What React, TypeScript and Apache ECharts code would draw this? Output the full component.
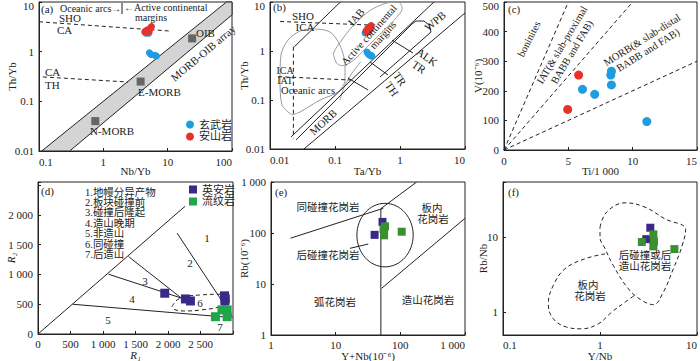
import { useEffect, useRef } from "react";
import * as echarts from "echarts";

const FONT = "'Liberation Serif','Times New Roman','Noto Sans CJK SC',serif";
const INK = "#222";
const BLUE = "#1d9de0";
const RED = "#e5322b";
const PURPLE = "#3b2888";
const GREEN_D = "#1fa64a";
const GREEN = "#3a8f2f";
const GRAY = "#666";
const FIELD = "#9a9a9a";

// ---------- (a) Th/Yb vs Nb/Yb ----------
const aBasalt = [[5.2, 0.95], [5.5, 0.88], [6.3, 0.85], [6.7, 0.82], [4.6, 2.35], [5.1, 2.35]];
const aAndesite = [[4.4, 2.5], [4.7, 2.7], [5.0, 2.8], [5.4, 3.0], [5.6, 3.2], [4.9, 2.5], [5.2, 2.6]];
const aRefPoints = [[0.75, 0.04], [3.8, 0.25], [24, 1.85]];
const aArrayBand = [[0.11, 0.01], [82, 10], [100, 10], [100, 5.5], [0.3, 0.01]];
const aShoCa = [[0.1, 4.0], [11, 2.6]];
const aCaTh = [[0.115, 0.31], [2.4, 0.245]];

// ---------- (b) Th/Yb vs Ta/Yb ----------
const bBasalt = [[0.31, 0.95], [0.33, 0.85], [0.35, 0.8], [0.37, 0.78], [0.32, 0.9], [0.36, 0.82], [0.29, 2.33]];
const bAndesite = [[0.3, 2.6], [0.32, 2.9], [0.34, 3.1], [0.36, 3.3], [0.33, 2.5], [0.35, 2.8], [0.31, 2.4]];
const bShoIca = [[0.0143, 4.0], [0.33, 3.4]];
const bIcaIat = [[0.0134, 0.3], [0.17, 0.256]];
const bVertical = [[0.0229, 1.22], [0.0229, 0.0165]];
const bArcUpper = [[0.0237, 1.22], [0.121, 10]];
const bMantleUpper = [[0.021, 0.0176], [3.33, 10]];
const bMantleLower = [[0.0251, 0.0153], [1.53, 3.56], [1.76, 4.09], [2.34, 4.09], [2.79, 3.4], [3.0, 2.44], [0.492, 0.294]];
const bOuter = [[0.0333, 0.01], [10, 5.97]];
const bDivAlk = [[0.753, 1.67], [1.585, 0.91]];
const bDivTr = [[0.345, 0.597], [0.653, 0.324]];
const bDivLow = [[0.158, 0.281], [0.322, 0.16]];
const bOceanic = [[0.0218, 0.0494], [0.0153, 0.0791], [0.01426, 0.256], [0.01476, 0.828], [0.0189, 1.67], [0.029, 2.56], [0.0492, 2.81], [0.0838, 2.44], [0.119, 1.32], [0.1426, 0.518], [0.1426, 0.256], [0.111, 0.146], [0.0588, 0.1], [0.029, 0.0569], [0.0218, 0.0494]];
const bIab = [[0.106, 0.561], [0.095, 0.85], [0.12, 1.5], [0.19, 3.3], [0.34, 6.6], [0.62, 9.5], [0.95, 9.9], [1.08, 7.4], [0.8, 4.2], [0.49, 2.2], [0.3, 1.15], [0.185, 0.62], [0.127, 0.5], [0.106, 0.561]];
const bAcm = [[0.119, 0.1], [0.1426, 0.202], [0.183, 0.356], [0.25, 0.6]];

// ---------- (c) V vs Ti/1000 ----------
const cBasalt = [[6.1, 205], [7.05, 188], [8.35, 266], [8.3, 253], [8.35, 220], [11.1, 96]];
const cAndesite = [[5.8, 253], [4.95, 137]];
const cTiV10 = [[0, 0], [5, 500]];
const cTiV20 = [[0, 0], [10, 500]];
const cTiV50 = [[0, 0], [15, 300]];

// ---------- (d) R1-R2 ----------
const dDacite = [[1950, 684], [2268, 588], [2345, 554], [2870, 640], [2880, 590], [2875, 555]];
const dRhyolite = [[2730, 290], [2830, 405], [2910, 405], [2910, 290]];
const dLine0 = [[0, 0], [2264, 2144]];
const dLine12 = [[2140, 1692], [2989, 291]];
const dLine23 = [[1393, 1299], [2242, 571]];
const dLine34 = [[1085, 1003], [2294, 571]];
const dLine45 = [[535, 499], [2989, 274]];
const dField6 = [[2063, 459], [2140, 571], [2294, 633], [2500, 655], [2757, 667], [2911, 643], [2937, 543], [2808, 459], [2500, 403], [2243, 386], [2088, 415], [2063, 459]];
const dFieldNames = ["1.地幔分异产物", "2.板块碰撞前", "3.碰撞后隆起", "4.造山晚期", "5.非造山", "6.同碰撞", "7.后造山"];

// ---------- (e) Rb vs Y+Nb ----------
const eDacite = [[53, 165], [40, 92]];
const eRhyolite = [[58, 135], [55, 120], [56, 100], [56, 90], [105, 106]];
const eSynVag = [[2, 79], [54.5, 305]];
const eSynWpg = [[50, 300], [179, 1000]];
const eVertical = [[50, 1], [50, 300]];
const eWpgOrg = [[51.4, 8.24], [1000, 194]];
const ePointer = [[16.6, 50], [31.9, 60.8]];
const eCircleCenter = [58, 91];
const eCircleEdge = [158, 382];

// ---------- (f) Rb/Nb vs Y/Nb ----------
const fDacite = [[3.3, 13.5], [3.0, 9.5]];
const fRhyolite = [[3.55, 11.0], [2.7, 8.7], [3.6, 8.8], [3.55, 7.6], [5.85, 7.0]];
const fPostCol = [[1.0, 13.7], [1.17, 21.8], [1.81, 29], [2.91, 25.4], [4.68, 17.7], [7.64, 12.8], [6.95, 7.43], [5.7, 3.82], [4.5, 1.87], [3.55, 1.27], [2.69, 1.45], [1.96, 2.07], [1.37, 4.23], [1.13, 7.06], [1.0, 10.1], [1.0, 13.7]];
const fWithinPlate = [[1.13, 6.05], [0.7, 5.2], [0.435, 3.82], [0.33, 2.29], [0.293, 1.31], [0.33, 0.824], [0.453, 0.637], [0.647, 0.605], [0.962, 0.706], [1.32, 1.01], [1.81, 1.37], [2.39, 1.77]];

const isPow10 = (v: number) => Math.abs(Math.log10(v) - Math.round(Math.log10(v))) < 1e-6;
const fmt = (v: number) => {
  const s = String(+v.toPrecision(6));
  return Math.abs(v) >= 1000 ? s.replace(/\B(?=(\d{3})+(?!\d))/g, " ") : s;
};

function buildOption() {
  const grids = [
    { left: 39, top: 2, width: 193, height: 149 },
    { left: 270, top: 2, width: 195, height: 147 },
    { left: 504, top: 2, width: 193, height: 148 },
    { left: 38, top: 182, width: 195, height: 152 },
    { left: 271, top: 182, width: 194, height: 153 },
    { left: 503, top: 182, width: 194, height: 153 },
  ].map((g) => ({ ...g, show: true, borderColor: INK, borderWidth: 1, backgroundColor: "transparent", containLabel: false, outerBoundsMode: "none" }));

  const labelFont = { fontFamily: FONT, fontSize: 11, color: INK };

  const axisBase = (i: number, isX: boolean, type: string, min: number, max: number, name: string, extra: any = {}) => ({
    gridIndex: i,
    type,
    min,
    max,
    name,
    nameLocation: "middle",
    nameGap: extra.gap,
    nameMoveOverlap: false,
    nameTextStyle: { ...labelFont, fontStyle: extra.italic ? "italic" : "normal" },
    axisLine: { show: true, lineStyle: { color: INK, width: 1 } },
    axisTick: { show: true, inside: true, length: 3, lineStyle: { color: INK } },
    splitLine: { show: false },
    axisLabel: {
      ...labelFont,
      margin: isX && i >= 3 ? 4 : 5,
      ...(extra.alignMin ? { alignMinLabel: extra.alignMin } : {}),
      ...(isX ? { alignMaxLabel: "right" } : {}),
      rich: { top: { ...labelFont, padding: [8, 0, 0, 0] } },
      formatter: (v: number) => {
        if (type === "log" && !isPow10(v)) return "";
        if (extra.hideAbove !== undefined && v > extra.hideAbove) return "";
        if (extra.shiftTop && Math.abs(v - max) < 1e-9) return `{top|${fmt(v)}}`;
        return fmt(v);
      },
    },
    ...(extra.interval ? { interval: extra.interval } : {}),
    ...(type === "log" ? { logBase: 10 } : {}),
  });

  const xAxis = [
    axisBase(0, true, "log", 0.1, 100, "Nb/Yb", { gap: 14, alignMin: "left" }),
    axisBase(1, true, "log", 0.01, 10, "Ta/Yb", { gap: 16, alignMin: "left" }),
    axisBase(2, true, "value", 0, 15, "Ti/1 000", { gap: 15, interval: 5 }),
    axisBase(3, true, "value", 0, 3000, "R\u2081", { gap: 15, interval: 500, hideAbove: 2500, italic: true }),
    axisBase(4, true, "log", 1, 1000, "Y+Nb(10\u207B\u2076)", { gap: 15 }),
    axisBase(5, true, "log", 0.1, 10, "Y/Nb", { gap: 15, alignMin: "left" }),
  ];
  const yAxis = [
    axisBase(0, false, "log", 0.01, 10, "Th/Yb", { gap: 22, shiftTop: true }),
    axisBase(1, false, "log", 0.01, 10, "Th/Yb", { gap: 21, shiftTop: true }),
    axisBase(2, false, "value", 0, 500, "V(10\u207B\u2076)", { gap: 21, interval: 100, shiftTop: true }),
    axisBase(3, false, "value", 0, 2550, "R\u2082", { gap: 22, interval: 500, hideAbove: 2000, italic: true }),
    axisBase(4, false, "log", 1, 1000, "Rb(10\u207B\u2076)", { gap: 22 }),
    axisBase(5, false, "log", 0.5, 55, "Rb/Nb", { gap: 15 }),
  ];

  const line = (i: number, data: number[][], o: any = {}) => ({
    type: "line",
    xAxisIndex: i,
    yAxisIndex: i,
    data,
    symbol: "none",
    silent: true,
    smooth: o.smooth || false,
    z: 2,
    lineStyle: { color: o.color || INK, width: o.width || 1, type: o.dash ? [4, 3] : "solid" },
  });
  const scatter = (i: number, name: string, data: number[][], color: string, symbol: string, size: number) => ({
    type: "scatter",
    name,
    xAxisIndex: i,
    yAxisIndex: i,
    data,
    symbol,
    symbolSize: size,
    itemStyle: { color, opacity: 1 },
    z: 5,
    silent: true,
  });

  const series: any[] = [
    // (a)
    {
      type: "custom",
      xAxisIndex: 0,
      yAxisIndex: 0,
      data: [aArrayBand[0]],
      silent: true,
      z: 1,
      renderItem: (_p: any, api: any) => ({
        type: "polygon",
        shape: { points: aArrayBand.map((pt) => api.coord(pt)) },
        style: { fill: "#d4d4d4", stroke: INK, lineWidth: 1 },
      }),
    },
    line(0, aShoCa, { dash: true }),
    line(0, aCaTh, { dash: true }),
    scatter(0, "ref", aRefPoints, GRAY, "rect", 8),
    scatter(0, "玄武岩", aBasalt, BLUE, "circle", 7),
    scatter(0, "安山岩", aAndesite, RED, "circle", 7),
    // (b)
    line(1, bOceanic, { color: FIELD, smooth: 0.3 }),
    line(1, bIab, { color: FIELD, smooth: 0.3 }),
    line(1, bAcm, { color: FIELD, smooth: 0.3 }),
    line(1, bShoIca, { dash: true }),
    line(1, bIcaIat, { dash: true }),
    line(1, bVertical, { dash: true }),
    line(1, bArcUpper),
    line(1, bMantleUpper),
    line(1, bMantleLower),
    line(1, bOuter),
    line(1, bDivAlk),
    line(1, bDivTr),
    line(1, bDivLow),
    scatter(1, "玄武岩", bBasalt, BLUE, "circle", 7),
    scatter(1, "安山岩", bAndesite, RED, "circle", 7),
    // (c)
    line(2, cTiV10, { dash: true }),
    line(2, cTiV20, { dash: true }),
    line(2, cTiV50, { dash: true }),
    scatter(2, "玄武岩", cBasalt, BLUE, "circle", 9),
    scatter(2, "安山岩", cAndesite, RED, "circle", 9),
    // (d)
    line(3, dLine0),
    line(3, dLine12),
    line(3, dLine23),
    line(3, dLine34),
    line(3, dLine45),
    line(3, dField6, { dash: true, smooth: 0.4 }),
    scatter(3, "英安岩", dDacite, PURPLE, "rect", 9),
    scatter(3, "流纹岩", dRhyolite, GREEN_D, "rect", 9),
    // (e)
    line(4, eSynVag),
    line(4, eSynWpg),
    line(4, eVertical),
    line(4, eWpgOrg),
    line(4, ePointer),
    {
      type: "custom",
      xAxisIndex: 4,
      yAxisIndex: 4,
      data: [eCircleCenter],
      silent: true,
      z: 2,
      renderItem: (_p: any, api: any) => {
        const c = api.coord(eCircleCenter);
        const e = api.coord(eCircleEdge);
        return {
          type: "ellipse",
          shape: { cx: c[0], cy: c[1], rx: Math.abs(e[0] - c[0]), ry: Math.abs(c[1] - e[1]) },
          style: { fill: "none", stroke: INK, lineWidth: 1 },
        };
      },
    },
    scatter(4, "英安岩", eDacite, PURPLE, "rect", 8),
    scatter(4, "流纹岩", eRhyolite, GREEN, "rect", 8),
    // (f)
    line(5, fPostCol, { dash: true, smooth: 0.4 }),
    line(5, fWithinPlate, { dash: true, smooth: 0.4 }),
    scatter(5, "英安岩", fDacite, PURPLE, "rect", 8),
    scatter(5, "流纹岩", fRhyolite, GREEN, "rect", 8),
  ];

  const tx = (x: number, y: number, text: string, o: any = {}) => ({
    type: "text",
    x,
    y,
    rotation: ((o.r || 0) * Math.PI) / 180,
    silent: true,
    z: 10,
    style: {
      text,
      fontSize: o.s || 11,
      fontFamily: FONT,
      fill: INK,
      align: o.a || "left",
      verticalAlign: "middle",
    },
  });

  const graphic: any[] = [
    // (a)
    tx(41, 9, "(a)"),
    tx(60, 8, "Oceanic arcs\u2192", { s: 10 }),
    { type: "line", silent: true, shape: { x1: 122, y1: 3, x2: 122, y2: 14 }, style: { stroke: INK, lineWidth: 1 } },
    tx(124, 7, "\u2190Active continental", { s: 10 }),
    tx(135, 17, "margins", { s: 10 }),
    tx(59, 18, "SHO"),
    tx(57, 30, "CA"),
    tx(45, 72, "CA"),
    tx(45, 85, "TH"),
    tx(196, 33, "OIB"),
    tx(138, 92, "E-MORB"),
    tx(90, 131, "N-MORB"),
    tx(203, 53, "MORB-OIB array", { a: "center", r: 40 }),
    // (b)
    tx(273, 7, "(b)"),
    tx(303, 16, "SHO", { a: "center" }),
    tx(305, 27, "ICA", { a: "center" }),
    tx(285, 70.5, "ICA", { a: "center", s: 10 }),
    tx(285, 80.5, "IAT", { a: "center", s: 10 }),
    tx(308, 90, "Oceanic arcs", { a: "center", s: 10.5 }),
    tx(356, 17, "IAB", { a: "center", r: 50 }),
    tx(369, 35, "Active continental", { a: "center", r: 48, s: 10.5 }),
    tx(383, 35, "margins", { a: "center", r: 48, s: 10.5 }),
    tx(323, 122, "MORB", { a: "center", r: 42 }),
    tx(435, 21, "WPB", { a: "center", r: 40 }),
    tx(427, 57, "ALK", { a: "center", r: -35 }),
    tx(419, 67, "TR", { a: "center", r: -35 }),
    tx(400, 79, "TR", { a: "center", r: -55 }),
    tx(392, 89, "TH", { a: "center", r: -55 }),
    // (c)
    tx(508, 9, "(c)"),
    tx(529, 39, "boninites", { a: "center", r: 63, s: 10.5 }),
    tx(562, 45, "IAT(& slab-proximal", { a: "center", r: 59, s: 10.5 }),
    tx(572, 52, "BABB and FAB)", { a: "center", r: 59, s: 10.5 }),
    tx(642, 40, "MORB(& slab-distal", { a: "center", r: 32, s: 10.5 }),
    tx(648, 50, "BABB and FAB)", { a: "center", r: 32, s: 10.5 }),
    // (d)
    tx(41, 191, "(d)"),
    ...dFieldNames.map((n, k) => tx(85, 192 + k * 10.4, n, { s: 10.5 })),
    tx(207, 238, "1", { a: "center" }),
    tx(190, 263, "2", { a: "center" }),
    tx(145, 281, "3", { a: "center" }),
    tx(132, 299, "4", { a: "center" }),
    tx(108, 320, "5", { a: "center" }),
    tx(200, 303, "6", { a: "center" }),
    tx(220, 327, "7", { a: "center" }),
    // (e)
    tx(275, 192, "(e)"),
    tx(328, 207, "同碰撞花岗岩", { a: "center", s: 10.5 }),
    tx(432, 208, "板内", { a: "center", s: 10.5 }),
    tx(433, 219, "花岗岩", { a: "center", s: 10.5 }),
    tx(328, 255, "后碰撞花岗岩", { a: "center", s: 10.5 }),
    tx(335, 302, "弧花岗岩", { a: "center", s: 10.5 }),
    tx(428, 300, "造山花岗岩", { a: "center", s: 10.5 }),
    // (f)
    tx(508, 192, "(f)"),
    tx(645, 255, "后碰撞或后", { a: "center", s: 10.5 }),
    tx(645, 266, "造山花岗岩", { a: "center", s: 10.5 }),
    tx(588, 285, "板内", { a: "center", s: 10.5 }),
    tx(590, 296, "花岗岩", { a: "center", s: 10.5 }),
  ];

  const legend = [
    { data: ["玄武岩", "安山岩"], left: 186, top: 119, orient: "vertical", icon: "circle", itemWidth: 8, itemHeight: 8, itemGap: 1, padding: 0, selectedMode: false, textStyle: labelFont },
    { data: ["英安岩", "流纹岩"], left: 189, top: 184, orient: "vertical", icon: "rect", itemWidth: 8, itemHeight: 8, itemGap: 1, padding: 0, selectedMode: false, textStyle: labelFont },
  ];

  return {
    animation: false,
    backgroundColor: "#fff",
    textStyle: { fontFamily: FONT },
    grid: grids,
    xAxis,
    yAxis,
    legend,
    series,
    graphic,
  };
}

export default function App() {
  const ref = useRef<HTMLDivElement>(null);
  useEffect(() => {
    const chart = echarts.init(ref.current as HTMLDivElement, null, { renderer: "svg" });
    chart.setOption(buildOption() as any);
    return () => chart.dispose();
  }, []);
  return <div ref={ref} style={{ position: "absolute", left: 0, top: 0, width: 700, height: 361, background: "#fff" }} />;
}
